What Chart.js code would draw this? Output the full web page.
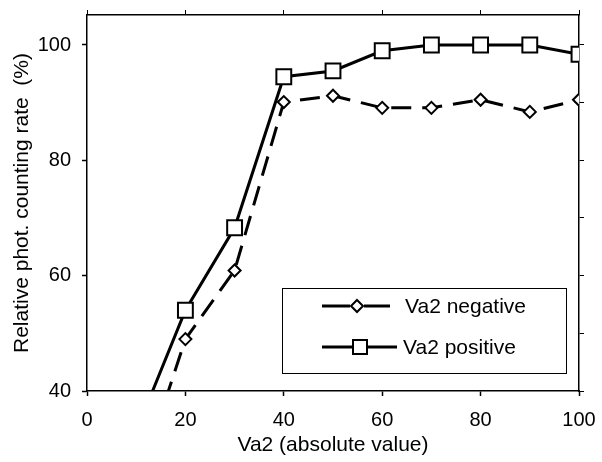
<!DOCTYPE html>
<html>
<head>
<meta charset="utf-8">
<script src="https://cdn.jsdelivr.net/npm/chart.js@4/dist/chart.umd.min.js"></script>
<style>
  html, body { margin: 0; padding: 0; background: #fff; }
  #wrap { width: 602px; height: 462px; }
</style>
</head>
<body>
<div id="wrap"><canvas id="chart" width="602" height="462"></canvas></div>
<script>
// values
const va2 = [10, 20, 30, 40, 50, 60, 70, 80, 90, 100];
const negativeRate = [23, 49, 60.9, 90.1, 91.2, 89.1, 89.1, 90.5, 88.4, 90.5];
const positiveRate = [33, 54, 68.3, 94.5, 95.5, 99, 100, 100, 100, 98.4];
const yTicks = [40, 60, 80, 100];
const yMinorTicks = [40, 50, 60, 70, 80, 90, 100];
const xTicks = [0, 20, 40, 60, 80, 100];

const FONT = 'Liberation Sans, Arial, sans-serif';

function toPoints(xs, ys) {
    return xs.map((x, i) => ({ x: x, y: ys[i] }));
}

// legend box drawn inside the plot, like the original
const boxLegend = {
    id: 'boxLegend',
    afterDraw(chart) {
        const ctx = chart.ctx;
        ctx.save();
        ctx.fillStyle = '#fff';
        ctx.fillRect(282, 288, 284, 85);
        ctx.strokeStyle = '#000';
        ctx.lineWidth = 1;
        ctx.strokeRect(282.5, 288.5, 284, 85);

        ctx.lineWidth = 3;
        // negative: dashed sample
        ctx.beginPath();
        ctx.moveTo(322, 306); ctx.lineTo(350, 306);
        ctx.moveTo(364, 306); ctx.lineTo(390, 306);
        ctx.stroke();
        // positive: solid sample
        ctx.beginPath();
        ctx.moveTo(322, 347); ctx.lineTo(397, 347);
        ctx.stroke();

        ctx.fillStyle = '#fff';
        ctx.lineWidth = 2;
        ctx.beginPath();
        ctx.moveTo(357, 300); ctx.lineTo(363, 306); ctx.lineTo(357, 312); ctx.lineTo(351, 306); ctx.closePath();
        ctx.fill(); ctx.stroke();
        ctx.fillRect(353, 340, 14, 14);
        ctx.strokeRect(353, 340, 14, 14);

        ctx.fillStyle = '#000';
        ctx.font = '21px ' + FONT;
        ctx.textBaseline = 'middle';
        ctx.fillText('Va2 negative', 405, 307);
        ctx.fillText('Va2 positive', 403, 348);
        ctx.restore();
    }
};

function fixedTicks(list) {
    return function (scale) {
        scale.ticks = list.map(v => ({ value: v }));
    };
}

// fixed box sizes so the plot sits where it does in the original
function fixX(h) {
    return function (s) {
        s.height = h;
        s.paddingLeft = 0;
        s.paddingRight = 0;
    };
}
function fixY(w) {
    return function (s) {
        s.width = w;
        s.paddingTop = 0;
        s.paddingBottom = 0;
    };
}

new Chart(document.getElementById('chart'), {
    type: 'line',
    data: {
        datasets: [{
            label: 'Va2 negative',
            data: toPoints(va2, negativeRate),
            borderColor: '#000',
            borderWidth: 3,
            borderDash: [20, 11],
            pointStyle: 'rectRot',
            pointRadius: 6,
            pointBorderWidth: 2,
            pointBackgroundColor: '#fff',
            pointBorderColor: '#000',
            fill: false,
            tension: 0,
            clip: 0
        }, {
            label: 'Va2 positive',
            data: toPoints(va2, positiveRate),
            borderColor: '#000',
            borderWidth: 3,
            pointStyle: 'rect',
            pointRadius: 10.5,
            pointBorderWidth: 2,
            pointBackgroundColor: '#fff',
            pointBorderColor: '#000',
            fill: false,
            tension: 0,
            clip: 0
        }]
    },
    options: {
        responsive: false,
        animation: false,
        layout: { padding: 0 },
        plugins: {
            legend: { display: false },
            tooltip: { enabled: false }
        },
        scales: {
            x: {
                type: 'linear',
                position: 'bottom',
                min: 0,
                max: 100,
                afterBuildTicks: fixedTicks(xTicks),
                afterFit: fixX(71),
                ticks: { color: '#000', font: { family: FONT, size: 20 }, padding: 12, maxRotation: 0 },
                grid: { drawOnChartArea: false, color: '#000', tickLength: 5, tickWidth: 1.5 },
                border: { color: '#000', width: 1.5 },
                title: { display: true, text: 'Va2 (absolute value)', color: '#000', font: { family: FONT, size: 21 }, padding: { top: 8 } }
            },
            x2: {
                type: 'linear',
                position: 'top',
                min: 0,
                max: 100,
                afterBuildTicks: fixedTicks(xTicks),
                afterFit: fixX(15),
                ticks: { display: false },
                grid: { drawOnChartArea: false, color: '#000', tickLength: 5, tickWidth: 1 },
                border: { color: '#000', width: 1.5 }
            },
            y: {
                type: 'linear',
                position: 'left',
                min: 40,
                max: 105.2,
                afterBuildTicks: fixedTicks(yTicks),
                afterFit: fixY(87),
                ticks: { color: '#000', font: { family: FONT, size: 20 }, padding: 11 },
                grid: { drawOnChartArea: false, color: '#000', tickLength: 5, tickWidth: 1.5 },
                border: { color: '#000', width: 1.5 },
                title: { display: true, text: 'Relative phot. counting rate  (%)', color: '#000', font: { family: FONT, size: 21 }, padding: { top: 10, bottom: 0 } }
            },
            y2: {
                type: 'linear',
                position: 'right',
                min: 40,
                max: 105.2,
                afterBuildTicks: fixedTicks(yMinorTicks),
                afterFit: fixY(23),
                ticks: { display: false },
                grid: { drawOnChartArea: false, color: '#000', tickLength: 5, tickWidth: 1 },
                border: { color: '#000', width: 1.5 }
            }
        }
    },
    plugins: [boxLegend]
});
</script>
</body>
</html>
